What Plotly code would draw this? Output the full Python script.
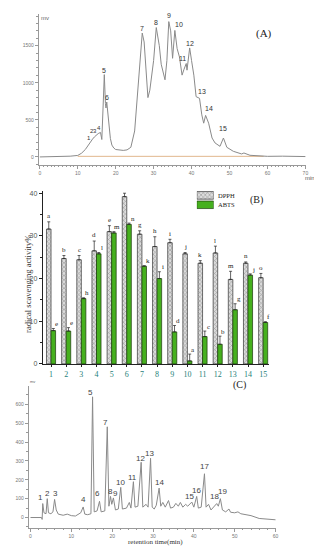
import plotly.graph_objects as go

# ---------------- Panel A: chromatogram (DPPH-HPLC) ----------------
a_time = [0, 3, 5, 8, 10, 11, 12, 13, 13.5, 13.9, 14.4, 14.9, 15.4, 16.0, 16.35, 16.7, 17.0, 17.3, 17.45, 17.65, 17.9, 18.2, 18.6, 19, 19.5, 20, 21, 22, 23, 24, 25,
          26, 26.5, 27, 27.5, 28, 28.5, 29, 30, 30.7, 31.5, 32, 33, 33.5, 34, 34.5, 35, 35.6, 36.2, 36.8, 37.5, 38.0, 38.6, 38.8, 39.5, 40.0, 40.6,
          41.2, 42.1, 42.7, 43.2, 43.7, 44.5, 45.4, 46.2, 47.5, 48.4, 49.3, 51.0, 53.2, 53.8, 55.4, 58, 60, 64, 70]
a_mv = [0, 2, 8, 10, 20, 50, 100, 180, 215, 240, 270, 295, 315, 330, 235, 700, 1110, 720, 660, 740, 600, 430, 250, 160, 120, 100, 90, 88, 95, 130, 350,
        1000, 1450, 1670, 1550, 1100, 800, 900, 1300, 1745, 1500, 1250, 1040, 1300, 1825, 1700, 1330, 1706, 1460, 1350, 1103, 1180, 1260, 1170, 1470, 1300, 1103,
        813, 790, 567, 455, 560, 455, 255, 188, 143, 255, 130, 76, 40, 53, 22, 12, 8, 10, 5]
a_base_time = [10, 59]
a_base_mv = [8, 8]
a_peak_labels = ["1", "2", "3", "4", "5", "6", "7", "8", "9", "10", "11", "12", "13", "14", "15"]
a_label_time = [13.1, 13.7, 14.6, 15.6, 16.8, 17.8, 27.0, 30.7, 34.0, 36.6, 37.7, 39.5, 42.7, 44.5, 48.4]
a_label_mv = [259, 352, 352, 388, 1169, 800, 1737, 1817, 1906, 1786, 1326, 1527, 888, 647, 388]

# ---------------- Panel B: scavenging activity bars ----------------
fractions = [str(i) for i in range(1, 16)]
dpph = [31.6, 24.7, 24.4, 26.5, 31.0, 39.2, 30.4, 27.5, 28.4, 25.8, 23.6, 26.0, 19.8, 23.6, 20.2]
dpph_err = [1.7, 0.7, 1.0, 2.3, 1.4, 0.8, 0.8, 2.3, 0.8, 0.3, 0.6, 1.6, 1.9, 0.3, 1.0]
abts = [7.8, 7.7, 15.3, 25.8, 30.7, 32.7, 22.9, 20.0, 7.5, 0.7, 6.4, 4.6, 12.7, 20.8, 9.7]
abts_err = [0.5, 0.8, 0.2, 0.3, 0.3, 0.3, 0.1, 1.6, 1.5, 1.6, 1.3, 1.9, 1.4, 0.3, 0.2]
dpph_letters = list("abcdefghijklmno")
abts_letters = ["e", "e", "h", "l", "m", "n", "k", "i", "d", "a", "c", "b", "g", "j", "f"]
series_names = ["DPPH", "ABTS"]

# ---------------- Panel C: chromatogram ----------------
c_time = [0, 2.7, 2.85, 3.0, 3.3, 3.8, 4.1, 4.4, 5.0, 5.5, 5.9, 6.3, 6.8, 8, 9, 10, 11, 11.8, 12.3, 12.9, 13.3, 14, 14.8, 15.2, 15.6,
          16.3, 16.9, 17.3, 18.2, 18.8, 19.2, 19.6, 19.9, 20.3, 20.8, 21.5, 22.1, 22.5, 23.5, 24.2, 24.6, 25.2, 25.6, 26.3, 27.1, 27.5,
          28.3, 28.8, 29.4, 29.8, 30.3, 30.8, 31.5, 31.9, 32.4, 33, 33.8, 34.3, 35, 35.6, 36.2, 36.7, 37.3, 38, 38.5, 39.5, 40, 40.7,
          41.1, 41.8, 42.6, 43, 43.6, 44.2, 44.8, 45.6, 46, 46.5, 47, 47.8, 48.6, 49, 50, 50.8, 51.5, 52.5, 54, 56, 58, 60]
c_mv = [0, 0, -10, 74, 25, 20, 100, 25, 20, 30, 96, 40, 18, 12, 18, 10, 8, 20, 25, 56, 18, 15, 20, 640, 30,
        35, 86, 30, 35, 481, 60, 112, 70, 104, 40, 45, 160, 45, 50, 80, 50, 190, 55, 60, 293, 55,
        70, 55, 314, 55, 45, 65, 156, 60, 80, 55, 90, 50, 55, 75, 60, 80, 55, 70, 60, 82, 55, 112,
        50, 55, 232, 55, 70, 40, 55, 74, 60, 100, 40, 30, 45, 28, 25, 30, 20, 15, 10, -5, -10, -12]
c_peak_labels = [str(i) for i in range(1, 20)]
c_label_time = [2.4, 4.2, 6.1, 13.0, 14.8, 16.4, 18.3, 19.6, 20.8, 22.1, 25.1, 26.9, 29.1, 31.5, 39.0, 40.7, 42.6, 45.1, 47.0]
c_label_mv = [108, 126, 126, 95, 665, 126, 503, 140, 130, 184, 214, 314, 337, 184, 112, 144, 270, 114, 140]

W, H = 322, 550
def dx(px):
    return px / W
def dy(py):
    return 1 - py / H

SERIF = "Liberation Serif"
SANS = "Liberation Sans"

DPPH_MARKER = dict(color="#dcdcdc", line=dict(color="#333", width=0.7),
                   pattern=dict(shape="x", fgcolor="#555", size=3, solidity=0.35))
ABTS_MARKER = dict(color="#46b01e", line=dict(color="#1b3a0c", width=0.7))

fig = go.Figure()
annotations = []

# Panel A traces
fig.add_trace(go.Scatter(x=a_base_time, y=a_base_mv, mode="lines", line=dict(color="#d8a46e", width=0.8),
                         xaxis="x", yaxis="y", showlegend=False, hoverinfo="skip"))
fig.add_trace(go.Scatter(x=a_time, y=a_mv, mode="lines", line=dict(color="#8a8a8a", width=1),
                         xaxis="x", yaxis="y", showlegend=False))
for i, (t, v, s) in enumerate(zip(a_label_time, a_label_mv, a_peak_labels)):
    annotations.append(dict(text=s, x=t, y=v, xref="x", yref="y", showarrow=False,
                            font=dict(family=SANS, size=6 if i < 4 else 7, color="#333")))

# Panel B traces
cats = list(range(1, 16))
bw = 0.3
fig.add_trace(go.Bar(x=cats, y=dpph, width=bw, offset=-bw, name="DPPH", marker=DPPH_MARKER,
                     error_y=dict(type="data", array=dpph_err, arrayminus=[0] * 15, symmetric=False,
                                  color="#222", thickness=0.7, width=1.5),
                     xaxis="x2", yaxis="y2", showlegend=False))
fig.add_trace(go.Bar(x=cats, y=abts, width=bw, offset=0, name="ABTS", marker=ABTS_MARKER,
                     error_y=dict(type="data", array=abts_err, arrayminus=[0] * 15, symmetric=False,
                                  color="#222", thickness=0.7, width=1.5),
                     xaxis="x2", yaxis="y2", showlegend=False))
for c, v, e, s in zip(cats, dpph, dpph_err, dpph_letters):
    annotations.append(dict(text=s, x=c - bw / 2, y=v + e + 1.3, xref="x2", yref="y2", showarrow=False,
                            font=dict(family=SERIF, size=7, color="#222")))
for c, v, e, s in zip(cats, abts, abts_err, abts_letters):
    annotations.append(dict(text=s, x=c + bw + 0.08, y=v + e + 1.0, xref="x2", yref="y2", showarrow=False,
                            font=dict(family=SERIF, size=7, color="#222")))

# Legend swatches for panel B (small dedicated axis)
fig.add_trace(go.Bar(x=[1], y=[1.5], width=0.8, orientation="h", marker=DPPH_MARKER,
                     xaxis="x4", yaxis="y4", showlegend=False, hoverinfo="skip"))
fig.add_trace(go.Bar(x=[1], y=[0.5], width=0.8, orientation="h", marker=ABTS_MARKER,
                     xaxis="x4", yaxis="y4", showlegend=False, hoverinfo="skip"))
for name, py in zip(series_names, [188, 197]):
    annotations.append(dict(text=name, x=dx(209), y=dy(py), xref="paper", yref="paper", xanchor="left",
                            showarrow=False, font=dict(family=SERIF, size=6.5, color="#222")))

# Panel C traces
fig.add_trace(go.Scatter(x=c_time, y=c_mv, mode="lines", line=dict(color="#8a8a8a", width=1),
                         xaxis="x3", yaxis="y3", showlegend=False))
for t, v, s in zip(c_label_time, c_label_mv, c_peak_labels):
    annotations.append(dict(text=s, x=t, y=v, xref="x3", yref="y3", showarrow=False,
                            font=dict(family=SANS, size=8, color="#444")))

annotations += [
    dict(text="(A)", x=dx(268), y=dy(16), xref="paper", yref="paper", showarrow=False,
         font=dict(family=SERIF, size=11, color="#222")),
    dict(text="mv", x=dx(31), y=dy(4), xref="paper", yref="paper", showarrow=False,
         font=dict(family=SANS, size=6, color="#666")),
    dict(text="min", x=dx(311), y=dy(165), xref="paper", yref="paper", showarrow=False,
         font=dict(family=SANS, size=6, color="#555")),
    dict(text="(B)", x=dx(259), y=dy(192), xref="paper", yref="paper", showarrow=False,
         font=dict(family=SERIF, size=10, color="#222")),
    dict(text="radical scavenging activity%", x=dx(13), y=dy(277), xref="paper", yref="paper",
         showarrow=False, textangle=-90, font=dict(family=SERIF, size=8.5, color="#333")),
    dict(text="(C)", x=dx(241), y=dy(387), xref="paper", yref="paper", showarrow=False,
         font=dict(family=SERIF, size=10, color="#222")),
    dict(text="mv", x=dx(20), y=dy(380), xref="paper", yref="paper", showarrow=False,
         font=dict(family=SANS, size=4, color="#666")),
    dict(text="retention time(min)", x=dx(148), y=dy(543), xref="paper", yref="paper", showarrow=False,
         font=dict(family=SERIF, size=7, color="#333")),
]

small_tick = dict(family=SANS, size=5, color="#777")
chrom_axis = dict(showline=True, linecolor="#999", linewidth=1, ticks="outside", tickcolor="#999", ticklen=3,
                  tickfont=small_tick, showgrid=False, zeroline=False)
hidden_axis = dict(visible=False, showgrid=False, zeroline=False, fixedrange=True)

fig.update_layout(
    width=W, height=H, autosize=False, margin=dict(l=0, r=0, t=0, b=0),
    paper_bgcolor="white", plot_bgcolor="white",
    barmode="overlay", showlegend=False,
    xaxis=dict(domain=[dx(31), dx(300)], range=[-0.26, 70.2], anchor="y", dtick=10,
               minor=dict(dtick=1, ticklen=1.5, ticks="outside", tickcolor="#999"), **chrom_axis),
    yaxis=dict(domain=[dy(157), dy(5)], range=[-107, 1928], anchor="x", dtick=500,
               minor=dict(dtick=100, ticklen=1.5, ticks="outside", tickcolor="#999"), **chrom_axis),
    xaxis2=dict(domain=[dx(35), dx(263)], range=[0.455, 15.41], anchor="y2",
                tickvals=cats, ticktext=fractions, tickfont=dict(family=SERIF, size=8, color="#1f7f7a"),
                showline=True, linecolor="#222", linewidth=1, ticks="outside", ticklen=2, tickcolor="#222",
                showgrid=False, zeroline=False),
    yaxis2=dict(domain=[dy(357.5), dy(183)], range=[0, 40.6], anchor="x2", dtick=10,
                tickfont=dict(family=SANS, size=7, color="#555"),
                showline=True, linecolor="#222", linewidth=1, ticks="outside", ticklen=3, tickcolor="#222",
                minor=dict(dtick=5, ticklen=2, ticks="outside", tickcolor="#222"),
                showgrid=False, zeroline=False),
    xaxis3=dict(domain=[dx(21), dx(270)], range=[-0.4, 60.2], anchor="y3", dtick=10,
                minor=dict(dtick=2, ticklen=1.5, ticks="outside", tickcolor="#999"), **chrom_axis),
    yaxis3=dict(domain=[dy(522.7), dy(380)], range=[-55, 696], anchor="x3", dtick=100,
                minor=dict(dtick=50, ticklen=1.5, ticks="outside", tickcolor="#999"), **chrom_axis),
    xaxis4=dict(domain=[dx(190), dx(207)], range=[0, 1], anchor="y4", **hidden_axis),
    yaxis4=dict(domain=[dy(202), dy(183)], range=[0, 2], anchor="x4", **hidden_axis),
    annotations=annotations,
)

fig.write_html("out.html")
